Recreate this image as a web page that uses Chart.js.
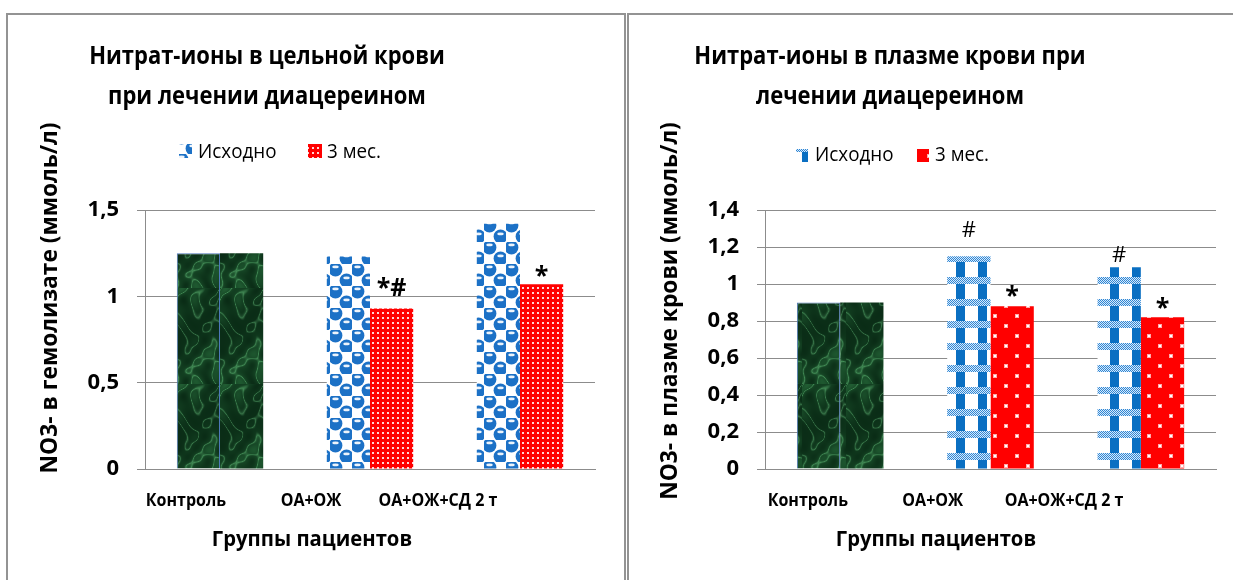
<!DOCTYPE html>
<html>
<head>
<meta charset="utf-8">
<script src="https://cdn.jsdelivr.net/npm/chart.js@4.4.1/dist/chart.umd.min.js"></script>
<style>
  html, body { margin: 0; padding: 0; background: #fff; width: 1233px; height: 580px; overflow: hidden; }
  #wrap { position: relative; width: 1233px; height: 580px; }
  .panel { position: absolute; border: 2px solid #939393; border-bottom: none; box-sizing: border-box; pointer-events: none; }
  #p1 { left: 6px; top: 13px; width: 620px; height: 600px; }
  #p2 { left: 627px; top: 13px; width: 700px; height: 600px; border-right: none; }
  canvas { position: absolute; top: 0; }
  #bloodChart { left: 0; }
  #plasmaChart { left: 626px; }
</style>
</head>
<body>
<div id="wrap">
  <canvas id="bloodChart" width="626" height="580"></canvas>
  <canvas id="plasmaChart" width="607" height="580"></canvas>
  <div class="panel" id="p1"></div>
  <div class="panel" id="p2"></div>
</div>
<script>
// ---- data ----
const categories = ['Контроль', 'ОА+ОЖ', 'ОА+ОЖ+СД 2 т'];
const seriesNames = ['Исходно', '3 мес.'];

const bloodBaseline = [1.25, 1.23, 1.42];
const bloodMonth3 = [1.25, 0.93, 1.07];
const bloodTicks = ['0', '0,5', '1', '1,5'];
const bloodMarksBaseline = ['', '', ''];
const bloodMarksMonth3 = ['', '*#', '*'];

const plasmaBaseline = [0.90, 1.15, 1.09];
const plasmaMonth3 = [0.90, 0.88, 0.82];
const plasmaTicks = ['0', '0,2', '0,4', '0,6', '0,8', '1', '1,2', '1,4'];
const plasmaMarksBaseline = ['', '#', '#'];
const plasmaMarksMonth3 = ['', '*', '*'];

const FONT = '"Open Sans", "Noto Sans", sans-serif';
const GRID = '#8c8c8c';

// ---- fill textures ----
function tile(w, h, paint) {
  const c = document.createElement('canvas');
  c.width = w; c.height = h;
  paint(c.getContext('2d'), w, h);
  return c;
}

// dark green marble used for the control group
function marbleTile() {
  return tile(44, 96, (g, w, h) => {
    const img = g.createImageData(w, h);
    for (let y = 0; y < h; y++) {
      for (let x = 0; x < w; x++) {
        const n = Math.sin(x * 0.28 + Math.sin(y * 0.09) * 3.1)
                + Math.sin(y * 0.19 + Math.sin(x * 0.15 + y * 0.05) * 2.3)
                + 0.4 * Math.sin((x - y) * 0.33);
        const t = (n + 2.4) / 4.8;
        const vein = Math.pow(Math.max(0, 1 - Math.abs(n - 0.6) * 1.6), 2);
        const patch = 0.55 + 0.45 * Math.sin(y * 0.065 + x * 0.05 + 1.2);
        const k = (y * w + x) * 4;
        img.data[k]     = Math.min(255, 10 + 22 * t * patch + vein * 42);
        img.data[k + 1] = Math.min(255, 44 + 48 * t * patch + vein * 66);
        img.data[k + 2] = Math.min(255, 22 + 28 * t * patch + vein * 46);
        img.data[k + 3] = 255;
      }
    }
    g.putImageData(img, 0, 0);
  });
}

// blue spheres on a checkerboard
function sphereTile() {
  return tile(22, 22, (g) => {
    g.fillStyle = '#ffffff'; g.fillRect(0, 0, 22, 22);
    [[5.5, 5.5], [16.5, 16.5]].forEach(([cx, cy]) => {
      g.fillStyle = '#1c71c6';
      g.beginPath(); g.arc(cx, cy, 6.9, 0, Math.PI * 2); g.fill();
      g.fillStyle = 'rgba(255,255,255,0.92)';
      g.beginPath(); g.ellipse(cx, cy - 2.6, 3.2, 1.3, 0, 0, Math.PI * 2); g.fill();
    });
  });
}

// fine white dots on red
function fineDotTile() {
  return tile(5, 5, (g) => {
    g.fillStyle = '#ff0000'; g.fillRect(0, 0, 5, 5);
    g.fillStyle = 'rgba(255,225,225,0.95)'; g.fillRect(2, 2, 2, 2);
  });
}

// blue gingham: vertical stripes crossed by a dotted band
function ginghamTile() {
  return tile(22, 22, (g) => {
    g.fillStyle = '#ffffff'; g.fillRect(0, 0, 22, 22);
    g.fillStyle = '#0a6fc2'; g.fillRect(0, 0, 9, 22);
    for (let y = 13; y < 20; y++) {
      for (let x = 0; x < 22; x++) {
        g.fillStyle = ((x + y) % 2 === 0) ? '#2f86d6' : '#d8eaf8';
        g.fillRect(x, y, 1, 1);
      }
    }
  });
}

// sparse white dots on red
function coarseDotTile() {
  return tile(22, 20, (g) => {
    g.fillStyle = '#ff0000'; g.fillRect(0, 0, 22, 20);
    [[5, 5], [16, 15]].forEach(([x, y]) => {
      g.fillStyle = 'rgba(255,190,190,0.9)'; g.fillRect(x - 1, y - 1, 4, 4);
      g.fillStyle = '#ffffff'; g.fillRect(x, y, 2, 2);
    });
  });
}

// text with a slight horizontal squeeze, for a narrower letterform
function drawText(ctx, text, x, y, font, sx, align, angle) {
  ctx.save();
  ctx.font = font;
  ctx.textAlign = align;
  ctx.translate(x, y);
  if (angle) ctx.rotate(angle);
  ctx.scale(sx, 1);
  ctx.fillText(text, 0, 0);
  ctx.restore();
}

// ---- text drawn around each chart: titles, legend, axis titles, category labels, marks ----
const panelText = {
  id: 'panelText',
  afterDraw(chart, args, o) {
    const ctx = chart.ctx;
    const area = chart.chartArea;
    ctx.save();
    ctx.fillStyle = '#000';
    ctx.textBaseline = 'middle';

    o.title.forEach((line, i) =>
      drawText(ctx, line, o.titleX, o.titleY[i], `bold 25px ${FONT}`, 0.88, 'center'));

    // legend
    o.legend.forEach((item, i) => {
      ctx.fillStyle = item.fill;
      ctx.fillRect(item.box[0], item.box[1], item.box[2], item.box[3]);
      ctx.fillStyle = '#000';
      drawText(ctx, seriesNames[i], item.textX, o.legendY, `20px ${FONT}`, 0.94, 'left');
    });

    // category labels
    categories.forEach((c, i) => {
      drawText(ctx, c, area.left + o.labelAt[i] * (area.right - area.left), o.labelY,
        `bold 18px ${FONT}`, 0.89, 'center');
    });

    // axis titles
    drawText(ctx, 'Группы пациентов', o.xTitle[0], o.xTitle[1], `bold 22px ${FONT}`, 0.92, 'center');
    drawText(ctx, o.yTitleText, o.yTitle[0], o.yTitle[1], `bold 23px ${FONT}`, 0.99, 'center', -Math.PI / 2);

    // significance marks above bars
    ctx.textBaseline = 'alphabetic';
    chart.data.datasets.forEach((ds, di) => {
      const meta = chart.getDatasetMeta(di);
      meta.data.forEach((bar, i) => {
        const t = o.marks[di][i];
        if (!t) return;
        drawText(ctx, t, bar.x, bar.y - o.markLift[di][i], o.markFont[di][i], 1, 'center');
      });
    });
    ctx.restore();
  }
};

function buildChart(canvasId, cfg) {
  const canvas = document.getElementById(canvasId);
  const ctx = canvas.getContext('2d');
  const green = ctx.createPattern(marbleTile(), 'repeat');
  const blue = ctx.createPattern(cfg.blueTile(), 'repeat');
  const red = ctx.createPattern(cfg.redTile(), 'repeat');

  return new Chart(ctx, {
    type: 'bar',
    data: {
      labels: categories,
      datasets: [
        {
          label: seriesNames[0],
          data: cfg.baseline,
          backgroundColor: (c) => c.dataIndex === 0 ? green : blue,
          borderColor: '#4f78b8',
          borderWidth: (c) => c.dataIndex === 0 ? 1 : 0,
          categoryPercentage: 0.576,
          barPercentage: 1
        },
        {
          label: seriesNames[1],
          data: cfg.month3,
          backgroundColor: (c) => c.dataIndex === 0 ? green : red,
          borderWidth: 0,
          categoryPercentage: 0.576,
          barPercentage: 1
        }
      ]
    },
    options: {
      responsive: false,
      animation: false,
      devicePixelRatio: 1,
      layout: { padding: { left: 0, top: 210, right: cfg.padRight, bottom: 111 } },
      plugins: {
        legend: { display: false },
        title: { display: false },
        tooltip: { enabled: false },
        panelText: {
          title: cfg.title,
          titleX: cfg.titleX,
          titleY: [57, 97],
          legend: [
            { fill: blue, box: cfg.legendBoxes[0], textX: cfg.legendText[0] },
            { fill: red, box: cfg.legendBoxes[1], textX: cfg.legendText[1] }
          ],
          legendY: cfg.legendY,
          labelAt: cfg.labelAt,
          labelY: 501,
          xTitle: cfg.xTitle,
          yTitle: cfg.yTitle,
          yTitleText: cfg.yTitleText,
          marks: cfg.marks,
          markFont: cfg.markFont,
          markLift: cfg.markLift
        }
      },
      scales: {
        x: {
          grid: { display: false },
          border: { color: GRID, width: 1 },
          ticks: { display: false },
          afterFit(s) { s.height = 0; }
        },
        y: {
          min: 0,
          max: cfg.max,
          ticks: {
            stepSize: cfg.step,
            padding: 18,
            color: '#000',
            font: { family: FONT, size: 22, weight: 'bold' },
            callback: (v, i) => cfg.ticks[i]
          },
          grid: { color: GRID, lineWidth: 1, tickLength: 8, drawTicks: true },
          border: { color: GRID, width: 1 },
          afterFit(s) { s.width = cfg.axisWidth; }
        }
      }
    },
    plugins: [panelText]
  });
}

buildChart('bloodChart', {
  baseline: bloodBaseline,
  month3: bloodMonth3,
  ticks: bloodTicks,
  max: 1.5, step: 0.5,
  axisWidth: 145, padRight: 31,
  blueTile: sphereTile, redTile: fineDotTile,
  title: ['Нитрат-ионы в цельной крови', 'при лечении диацереином'],
  titleX: 267,
  legendBoxes: [[179, 144, 13, 14], [308, 144, 14, 14]],
  legendText: [198, 327],
  legendY: 152,
  labelAt: [0.091, 0.369, 0.651],
  xTitle: [312, 540],
  yTitle: [50, 298],
  yTitleText: 'NO3- в гемолизате (ммоль/л)',
  marks: [bloodMarksBaseline, bloodMarksMonth3],
  markFont: [
    ['', '', ''],
    ['', `bold 25px ${FONT}`, `bold 25px ${FONT}`]
  ],
  markLift: [[0, 0, 0], [0, 12, 0]]
});

buildChart('plasmaChart', {
  baseline: plasmaBaseline,
  month3: plasmaMonth3,
  ticks: plasmaTicks,
  max: 1.4, step: 0.2,
  axisWidth: 139, padRight: 17,
  blueTile: ginghamTile, redTile: coarseDotTile,
  title: ['Нитрат-ионы в плазме крови при', 'лечении диацереином'],
  titleX: 264,
  legendBoxes: [[170, 149, 12, 13], [291, 149, 12, 13]],
  legendText: [189, 309],
  legendY: 155,
  labelAt: [0.095, 0.372, 0.663],
  xTitle: [310, 540],
  yTitle: [44, 311],
  yTitleText: 'NO3- в плазме крови (ммоль/л)',
  marks: [plasmaMarksBaseline, plasmaMarksMonth3],
  markFont: [
    ['', `22px ${FONT}`, `22px ${FONT}`],
    ['', `bold 25px ${FONT}`, `bold 25px ${FONT}`]
  ],
  markLift: [[0, 19, 5], [0, 2, 1]]
});
</script>
</body>
</html>
